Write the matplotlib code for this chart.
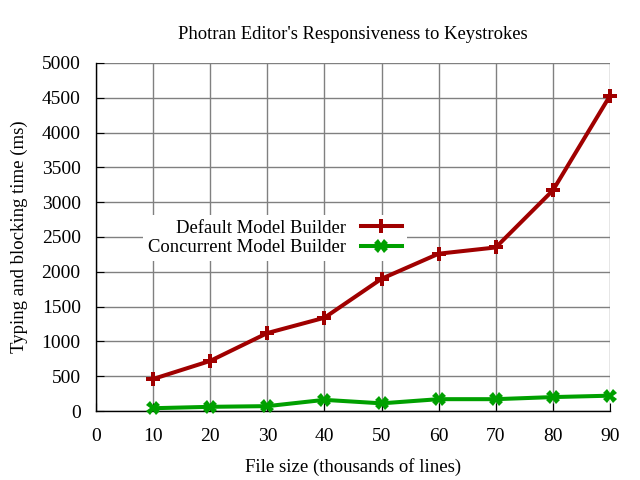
import matplotlib
matplotlib.use("Agg")
import matplotlib.pyplot as plt

x = [10, 20, 30, 40, 50, 60, 70, 80, 90]
default_mb = [460, 720, 1120, 1340, 1900, 2260, 2350, 3170, 4530]
concurrent_mb = [40, 60, 70, 160, 110, 170, 170, 200, 220]
series_names = ["Default Model Builder", "Concurrent Model Builder"]

plt.rcParams['font.family'] = ['Liberation Serif', 'DejaVu Serif']
fig = plt.figure(figsize=(6.4, 4.8), dpi=100)
ax = fig.add_axes([96/640, 1-411/480, (610-96)/640, (411-63)/480])

ax.plot(x, default_mb, color='#a00000', lw=2.9, marker='P', ms=9.5, markeredgewidth=0, label=series_names[0], clip_on=False, zorder=3)
ax.plot(x, concurrent_mb, color='#00a000', lw=2.9, marker='X', ms=9.5, markeredgewidth=0, label=series_names[1], clip_on=False, zorder=3)

ax.set_xlim(0, 90)
ax.set_ylim(0, 5000)
ax.set_xticks(range(0, 91, 10))
ax.set_yticks(range(0, 5001, 500))
ax.grid(True, color='#808080', lw=1)
ax.set_axisbelow(True)
for s in ['top', 'right']:
    ax.spines[s].set_visible(False)
for s in ['left', 'bottom']:
    ax.spines[s].set_color('black')
    ax.spines[s].set_linewidth(1)
ax.tick_params(direction='in', length=6, labelsize=14, colors='black')
ax.tick_params(axis='x', pad=12)
ax.tick_params(axis='y', pad=11)
ax.set_xlabel("File size (thousands of lines)", fontsize=13.5, labelpad=10)
ax.set_ylabel("Typing and blocking time (ms)", fontsize=13.5, labelpad=10)
ax.set_title("Photran Editor's Responsiveness to Keystrokes", fontsize=13.4, pad=17)

leg = ax.legend(loc='center', bbox_to_anchor=((275-96)/514, (411-238)/348), markerfirst=False,
                frameon=True, fontsize=13.4, handlelength=2.2, borderpad=0.25, labelspacing=0.15,
                fancybox=False, borderaxespad=0, handletextpad=0.8)
leg.get_frame().set_facecolor('white')
leg.get_frame().set_edgecolor('none')
leg.get_frame().set_alpha(1)
for t in leg.get_texts():
    t.set_ha('right')
leg._legend_box.align = 'right'

fig.savefig("out.png", dpi=100)
